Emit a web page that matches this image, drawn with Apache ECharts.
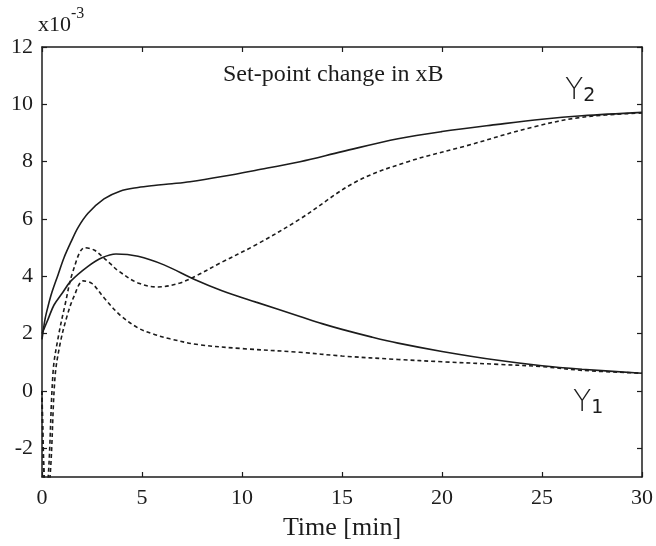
<!DOCTYPE html>
<html><head><meta charset="utf-8">
<script src="https://cdn.jsdelivr.net/npm/echarts@6/dist/echarts.min.js"></script>
<style>html,body{margin:0;padding:0;background:#fff}#c{width:656px;height:546px}</style>
</head><body><div id="c"></div>
<script>
// ---- data (values x10^-3) ----
const xTicks = [0, 5, 10, 15, 20, 25, 30];
const yTicks = [-2, 0, 2, 4, 6, 8, 10, 12];

const y2SolidT = [0, 0.15, 0.3, 0.5, 0.8, 1.1, 1.45, 1.8, 2.3, 3.1, 3.9, 4.8, 5.6, 6.5, 7.4, 9, 10.7, 12.9, 15, 17.8, 20, 22.8, 25, 27, 30];
const y2SolidV = [1.8, 2.5, 2.95, 3.45, 4.05, 4.65, 5.2, 5.7, 6.2, 6.7, 6.97, 7.1, 7.17, 7.23, 7.3, 7.48, 7.7, 8.0, 8.35, 8.8, 9.05, 9.3, 9.48, 9.6, 9.72];

const y2DashT = [0, 0.15, 0.31, 0.56, 0.81, 1.15, 1.56, 2.14, 2.6, 3.0, 3.4, 3.8, 4.8, 5.8, 6.9, 7.8, 8.9, 10.7, 12.9, 15.7, 18.3, 21.2, 24.5, 27, 30];
const y2DashV = [0, -3.6, -3.0, 0.72, 1.87, 3.0, 4.2, 5.0, 4.92, 4.7, 4.45, 4.2, 3.77, 3.63, 3.77, 4.05, 4.46, 5.1, 6.0, 7.3, 8.0, 8.55, 9.2, 9.55, 9.7];

const y1SolidT = [0, 0.3, 0.6, 1.0, 1.45, 2.3, 3.0, 3.7, 4.8, 6.1, 7.6, 9, 10.7, 12.9, 14, 15, 16.5, 17.8, 20, 22.8, 25, 27, 30];
const y1SolidV = [2.0, 2.5, 3.0, 3.4, 3.84, 4.35, 4.65, 4.78, 4.7, 4.4, 3.9, 3.5, 3.1, 2.6, 2.35, 2.15, 1.88, 1.67, 1.38, 1.07, 0.88, 0.76, 0.62];

const y1DashT = [0, 0.2, 0.4, 0.65, 0.9, 1.23, 1.6, 2.06, 2.5, 3.1, 3.9, 4.8, 5.5, 6.4, 7.8, 10, 12.9, 15, 17.8, 20, 22.8, 25, 27, 30];
const y1DashV = [0, -3.6, -3.0, 0.48, 1.63, 2.56, 3.3, 3.84, 3.75, 3.25, 2.65, 2.2, 2.0, 1.82, 1.62, 1.48, 1.35, 1.22, 1.1, 1.02, 0.93, 0.85, 0.72, 0.62];

const titleText = 'Set-point change in xB';
const xName = 'Time [min]';

function pairs(t, v) { return t.map((x, i) => [x, v[i]]); }

const INK = '#1c1c1c';
const FONT = '"Liberation Serif", "Times New Roman", serif';

const chart = echarts.init(document.getElementById('c'), null, {renderer: 'canvas'});

const lineBase = (name, t, v, dashed) => ({
  name, type: 'line', data: pairs(t, v), xAxisIndex: 0, yAxisIndex: 0,
  showSymbol: false, smooth: 0.35, clip: true,
  lineStyle: {color: INK, width: 1.6, type: dashed ? [4, 3] : 'solid'}
});

const tickStyle = {show: true, inside: true, length: 5, lineStyle: {color: INK, width: 1.2}};

chart.setOption({
  animation: false,
  backgroundColor: '#fff',
  grid: {left: 42, right: 12, top: 47, bottom: 64, containLabel: false},
  xAxis: [
    {type: 'value', min: 0, max: 30, interval: 5, position: 'bottom',
     name: xName, nameLocation: 'middle', nameGap: 38,
     nameTextStyle: {fontFamily: FONT, fontSize: 26, color: INK},
     axisLine: {show: true, onZero: false, lineStyle: {color: INK, width: 1.5}},
     axisTick: tickStyle,
     axisLabel: {fontFamily: FONT, fontSize: 22, color: INK, margin: 10, customValues: xTicks},
     splitLine: {show: false}},
    {type: 'value', min: 0, max: 30, interval: 5, position: 'top',
     axisLine: {show: true, onZero: false, lineStyle: {color: INK, width: 1.5}},
     axisTick: tickStyle, axisLabel: {show: false}, splitLine: {show: false}}
  ],
  yAxis: [
    {type: 'value', min: -3, max: 12, position: 'left',
     axisLine: {show: true, onZero: false, lineStyle: {color: INK, width: 1.5}},
     axisTick: Object.assign({customValues: yTicks}, tickStyle),
     axisLabel: {fontFamily: FONT, fontSize: 22, color: INK, margin: 9, customValues: yTicks},
     splitLine: {show: false}},
    {type: 'value', min: -3, max: 12, position: 'right',
     axisLine: {show: true, onZero: false, lineStyle: {color: INK, width: 1.5}},
     axisTick: Object.assign({customValues: yTicks}, tickStyle),
     axisLabel: {show: false}, splitLine: {show: false}}
  ],
  graphic: [
    {type: 'text', left: 38, top: 6, style: {
      text: '{a|x10}{b|-3}', fill: INK,
      rich: {a: {fontSize: 22, fontFamily: FONT, fill: INK, verticalAlign: 'bottom', lineHeight: 30},
             b: {fontSize: 16, fontFamily: FONT, fill: INK, verticalAlign: 'top', lineHeight: 30, padding: [0, 0, 12, 0]}}}},
    {type: 'text', left: 223, top: 63, style: {text: titleText, fontFamily: FONT, fontSize: 24, fill: INK}},
    {type: 'text', left: 565, top: 76, style: {
      text: '{y|Y}{s|2}', rich: {
        y: {fontSize: 30, fontFamily: '"DejaVu Sans", sans-serif', fontWeight: 200, fill: INK},
        s: {fontSize: 19, fontFamily: '"DejaVu Sans", sans-serif', fill: INK, padding: [10, 0, 0, 0]}}}},
    {type: 'text', left: 573, top: 388, style: {
      text: '{y|Y}{s|1}', rich: {
        y: {fontSize: 30, fontFamily: '"DejaVu Sans", sans-serif', fontWeight: 200, fill: INK},
        s: {fontSize: 19, fontFamily: '"DejaVu Sans", sans-serif', fill: INK, padding: [10, 0, 0, 0]}}}}
  ],
  series: [
    lineBase('y2 solid', y2SolidT, y2SolidV, false),
    lineBase('y2 dashed', y2DashT, y2DashV, true),
    lineBase('y1 solid', y1SolidT, y1SolidV, false),
    lineBase('y1 dashed', y1DashT, y1DashV, true)
  ]
});
</script></body></html>
